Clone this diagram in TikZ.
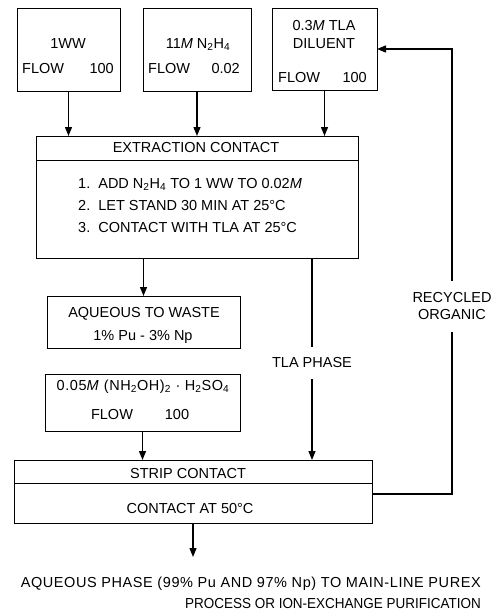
\documentclass[tikz,border=0pt]{standalone}
\usepackage{fontspec}
\setmainfont{Liberation Sans}
\usetikzlibrary{arrows.meta,positioning}

\begin{document}
\begin{tikzpicture}[x=1pt,y=-1pt,
    font=\fontsize{14.5}{17}\selectfont,
    box/.style={draw,line width=1pt,inner sep=0pt,outer sep=0pt},
    lbl/.style={inner sep=0pt},
    feed/.style={-{Triangle[length=9pt,width=7pt]},line width=1.3pt}]
    \useasboundingbox (0,0) rectangle (491,616);
    % feed boxes
    \node[box,minimum width=103pt,minimum height=83pt] (ww) at (68.5,49.5) {};
    \node[lbl,anchor=base] (wwname) at (68,48) {1WW};
    \node[lbl,anchor=base west] (wwflow) at (22,73) {FLOW};
    \node[lbl,anchor=base east] (wwrate) at (114,73) {100};
    \node[box,minimum width=108pt,minimum height=83pt] (hz) at (197,49.5) {};
    \node[lbl,anchor=base] (hzname) at (198,48) {11\textit{M} N\textsubscript{2}H\textsubscript{4}};
    \node[lbl,anchor=base west] (hzflow) at (148,73) {FLOW};
    \node[lbl,anchor=base east] (hzrate) at (240,73) {0.02};
    \node[box,minimum width=105pt,minimum height=82pt] (tla) at (324.5,49) {};
    \node[lbl,anchor=base] (tlaname) at (324,30) {0.3\textit{M} TLA};
    \node[lbl,anchor=base] (tladil) at (324,48) {DILUENT};
    \node[lbl,anchor=base west] (tlaflow) at (278,82) {FLOW};
    \node[lbl,anchor=base east] (tlarate) at (367,82) {100};
    % extraction contact
    \node[box,minimum width=322pt,minimum height=24pt] (exthead) at (197,148) {};
    \node[box,minimum width=322pt,minimum height=98pt,below=0pt of exthead] (extbody) {};
    \node[lbl,anchor=base] (exttitle) at (196,152) {EXTRACTION CONTACT};
    \node[lbl,anchor=base west] (step1) at (78,188) {1.\ \ ADD N\textsubscript{2}H\textsubscript{4} TO 1 WW TO 0.02\textit{M}};
    \node[lbl,anchor=base west] (step2) at (78,210) {2.\ \ LET STAND 30 MIN AT 25°C};
    \node[lbl,anchor=base west] (step3) at (78,232) {3.\ \ CONTACT WITH TLA AT 25°C};
    % waste and strip feed
    \node[box,minimum width=193pt,minimum height=52pt] (waste) at (143.5,322) {};
    \node[lbl,anchor=base] (wastename) at (144,317) {AQUEOUS TO WASTE};
    \node[lbl,anchor=base] (wastepct) at (143,340) {1\% Pu - 3\% Np};
    \node[box,minimum width=195pt,minimum height=57pt] (hyd) at (142.5,402.5) {};
    \node[lbl,anchor=base,font=\fontsize{14.5}{17}\selectfont\addfontfeature{LetterSpace=4}] (hydname) at (143,390)
        {0.05\textit{M} (NH\textsubscript{2}OH)\textsubscript{2}\ \textperiodcentered\ H\textsubscript{2}SO\textsubscript{4}};
    \node[lbl,anchor=base] (hydflow) at (112,419) {FLOW};
    \node[lbl,anchor=base] (hydrate) at (177,419) {100};
    % strip contact
    \node[box,minimum width=358pt,minimum height=23pt] (striphead) at (193,471.5) {};
    \node[box,minimum width=358pt,minimum height=40pt,below=0pt of striphead] (stripbody) {};
    \node[lbl,anchor=base] (striptitle) at (188,478) {STRIP CONTACT};
    \node[lbl,anchor=base] (stripstep) at (190,513) {CONTACT AT 50°C};
    % stream labels
    \node[inner xsep=0pt,inner ysep=11pt] (tph) at (312,363) {TLA PHASE};
    \node[inner xsep=0pt,inner ysep=12pt,align=center] (recyc) at (452,306.5) {RECYCLED\\ORGANIC};
    \node[lbl,anchor=base east,font=\fontsize{14.5}{17}\selectfont\addfontfeature{LetterSpace=4}] (out1) at (481,587)
        {AQUEOUS PHASE (99\% Pu AND 97\% Np) TO MAIN-LINE PUREX};
    \node[lbl,anchor=base east,font=\fontsize{14.5}{17}\selectfont\addfontfeature{FakeStretch=0.93}] (out2) at (481,608)
        {PROCESS OR ION-EXCHANGE PURIFICATION};
    \coordinate (outtip) at (193,557);
    % streams
    \draw[feed] (ww.south) -- (ww.south |- exthead.north);
    \draw[feed] (hz.south) -- (hz.south |- exthead.north);
    \draw[feed] (tla.south) -- (tla.south |- exthead.north);
    \draw[feed] (extbody.south -| waste.north) -- (waste.north);
    \draw[line width=1.3pt] (extbody.south -| tph.north) -- (tph.north);
    \draw[feed] (tph.south) -- (tph.south |- striphead.north);
    \draw[feed] (hyd.south) -- (hyd.south |- striphead.north);
    \draw[line width=1.3pt] ([yshift=9pt]stripbody.east) -| (recyc.south);
    \draw[feed] (recyc.north) |- (tla.east);
    \draw[feed] (stripbody.south) -- (outtip);
\end{tikzpicture}
\end{document}
